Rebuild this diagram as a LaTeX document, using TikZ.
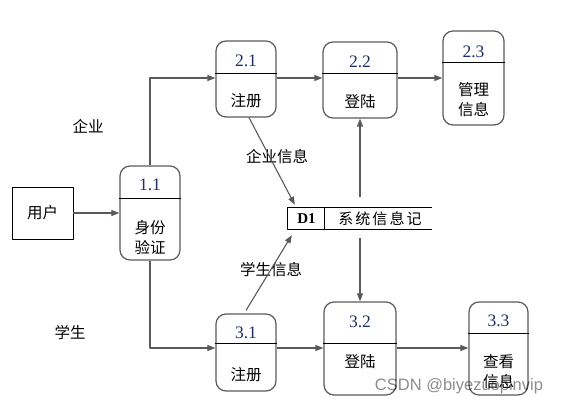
\documentclass[tikz,border=0pt]{standalone}
\usepackage{fontspec}
\setmainfont{Liberation Serif}
\newfontfamily\cjk{Noto Sans CJK SC}
\newfontfamily\cjkwide[LetterSpace=14]{Noto Sans CJK SC}
\newfontfamily\wmfont{Liberation Sans}
\usetikzlibrary{arrows.meta}
\definecolor{numblue}{HTML}{1A2F6B}
\definecolor{edgegray}{HTML}{5A5A5A}
\begin{document}
\begin{tikzpicture}[x=1pt, y=-1pt, line join=round, >={Triangle[length=8pt,width=6pt]},
	proc/.style={draw=edgegray, line width=1.2pt, rounded corners=10pt},
	num/.style={text=numblue, inner sep=0pt, font=\fontsize{17.5}{17.5}\selectfont},
	zh/.style={inner sep=0pt, align=center, font=\cjk\fontsize{15.5}{20}\selectfont},
	flow/.style={->, draw=edgegray, line width=1.1pt}]
	\useasboundingbox (0,0) rectangle (564,406);
	\coordinate (r2) at (0,78);
	\coordinate (r3) at (0,348);
	% processes
	\foreach \n/\cx/\cy/\w/\h/\d in {p11/150/213/60/94/198, p21/246/79/60/76/73, p22/360/80/74/76/73,
		p23/473.5/78/61/94/62, p31/246/352.5/60/77/343, p32/360/348.5/72/93/343, p33/498.5/348.5/59/93/333}{
		\node[proc, minimum width=\w pt, minimum height=\h pt] (\n) at (\cx,\cy) {};
		\coordinate (d\n) at (\cx,\d);
		\draw[line width=0.8pt] (\n.west |- d\n) -- (\n.east |- d\n);
	}
	\foreach \n/\x/\ny/\ty/\no/\txt in {p11/150/185/238/1.1/{身份\\验证}, p21/246/61/101/2.1/注册,
		p22/360/62/102/2.2/登陆, p23/473.5/52/100/2.3/{管理\\信息}, p31/246/333/375/3.1/注册,
		p32/360/322/362/3.2/登陆, p33/498.5/321/372/3.3/{查看\\信息}}{
		\node[num] (\n no) at (\x,\ny) {\no};
		\node[zh] (\n txt) at (\x,\ty) {\txt};
	}
	% user
	\node[draw, line width=0.9pt, minimum width=61pt, minimum height=52pt, zh] (user) at (42.5,213) {用户};
	% data store
	\node[minimum width=144pt, minimum height=21pt] (d1) at (360,218.5) {};
	\draw[line width=0.8pt] (d1.north east) -- (d1.north west) -- (d1.south west) -- (d1.south east);
	\draw[line width=0.8pt] ([xshift=37pt]d1.north west) -- ([xshift=37pt]d1.south west);
	\node[inner sep=0pt, font=\bfseries\fontsize{15}{15}\selectfont] (d1no) at (306.5,219) {D1};
	\node[inner sep=0pt, font=\cjkwide\fontsize{15}{15}\selectfont] (d1txt) at (380,219) {系统信息记};
	% labels
	\node[zh] (lqy) at (88,126) {企业};
	\node[zh] (lxs) at (70,333) {学生};
	\node[zh] (lqyxx) at (277,157) {企业信息};
	\node[zh] (lxsxx) at (271,270) {学生信息};
	% flows
	\draw[flow] (user) -- (p11);
	\draw[flow] (p11.north) |- (p21.west |- r2);
	\draw[flow] (p21.east |- r2) -- (p22.west |- r2);
	\draw[flow] (p22.east |- r2) -- (p23.west |- r2);
	\draw[flow] (p11.south) |- (p31.west |- r3);
	\draw[flow] (p31.east |- r3) -- (p32.west |- r3);
	\draw[flow] (p32.east |- r3) -- (p33.west |- r3);
	\draw[flow] ([xshift=3pt]p21.south) -- ([xshift=7pt,yshift=3pt]d1.north west);
	\draw[flow] ([yshift=3pt]p31.north) -- ([xshift=4pt,yshift=-6pt]d1.south west);
	\coordinate (up) at (360,197);
	\coordinate (dn) at (360,238);
	\draw[flow] (up) -- (p22.south);
	\draw[flow] (dn) -- (p32.north);
	% watermark
	\node[text=black, text opacity=0.45, inner sep=0pt, font=\wmfont\fontsize{16.5}{16.5}\selectfont] (wm) at (459,386) {CSDN @biyezuopinvip};
\end{tikzpicture}
\end{document}
